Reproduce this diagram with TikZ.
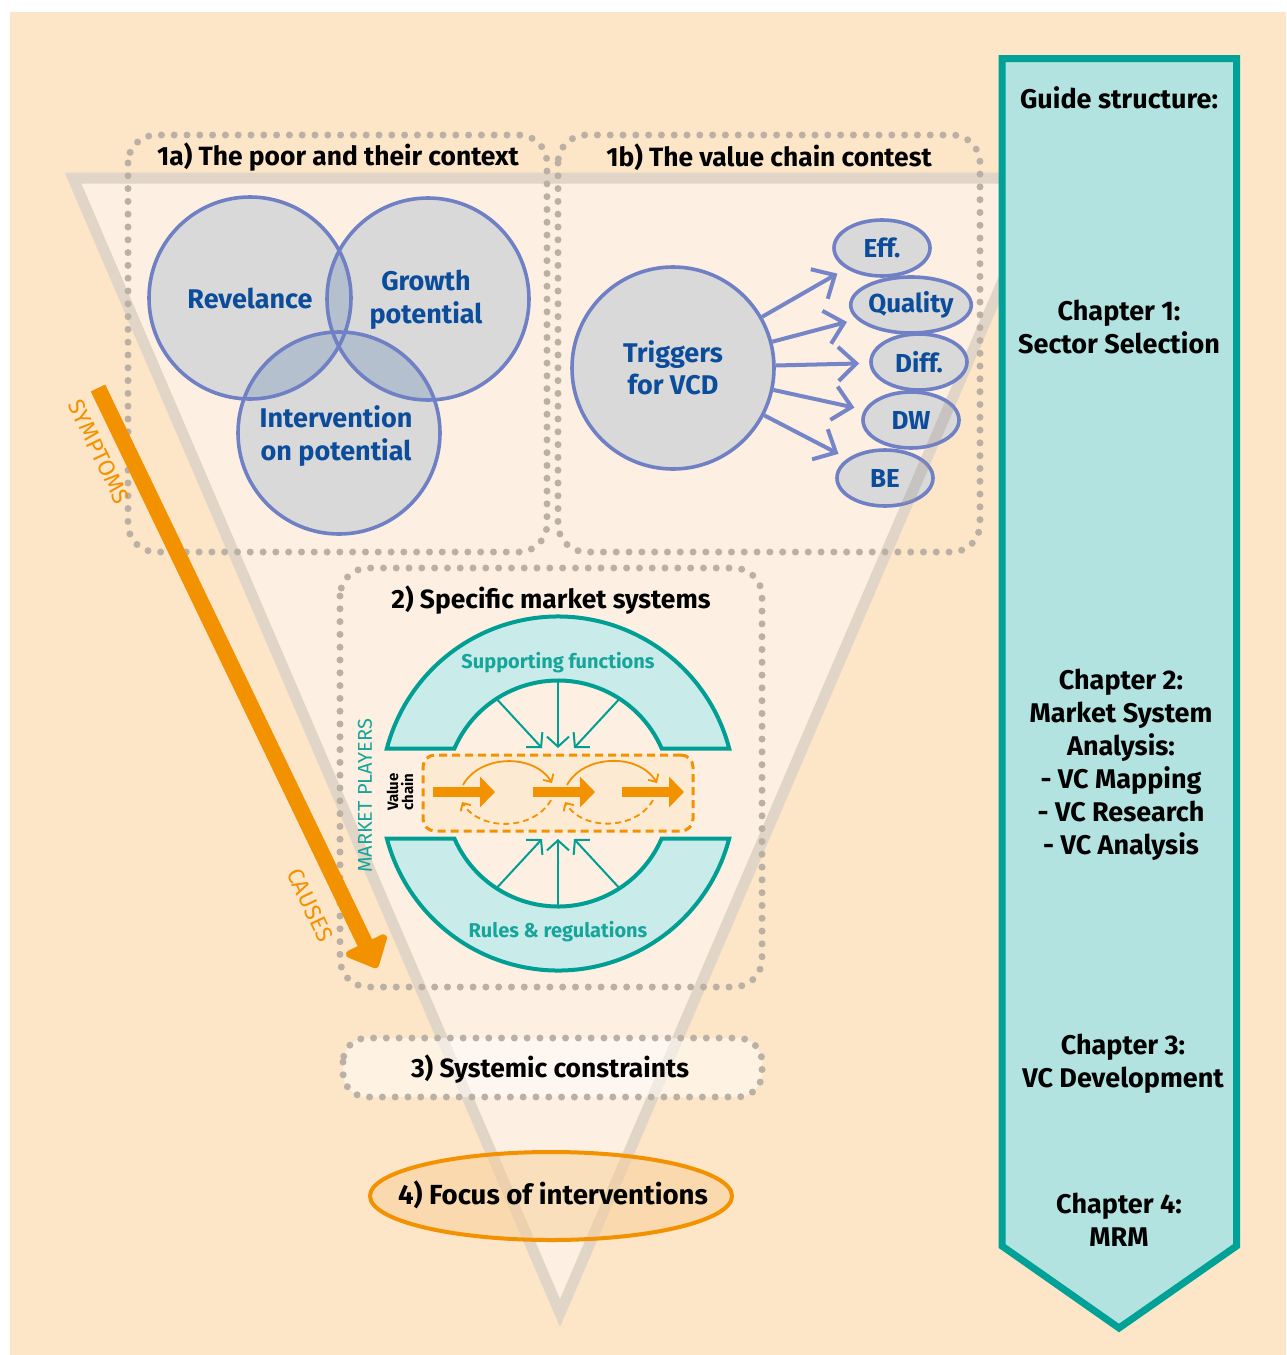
\documentclass[tikz,border=0pt]{standalone}
\usepackage{fontspec}
\setmainfont{Fira Sans}
\usepackage{tikz}
\usepackage{tkz-euclide}
\usetikzlibrary{calc}
\usetikzlibrary{arrows.meta}
\usetikzlibrary{shapes.geometric}
\usetikzlibrary{positioning}

\definecolor{bgorange}{HTML}{FDE5C8}
\definecolor{trifill}{HTML}{FDF0E3}
\definecolor{triline}{HTML}{E1D5C7}
\definecolor{trishade}{HTML}{A89C92}
\definecolor{dotgray}{HTML}{BBB0A4}
\definecolor{venngray}{HTML}{D9D9D9}
\definecolor{vennlens}{HTML}{B5C0CF}
\definecolor{vennline}{HTML}{7080C4}
\definecolor{vennblue}{HTML}{0B4C9B}
\definecolor{trigline}{HTML}{7585C7}
\definecolor{tealline}{HTML}{009E93}
\definecolor{tealfill}{HTML}{C9ECEA}
\definecolor{tealtext}{HTML}{16A59B}
\definecolor{vcorange}{HTML}{F39200}
\definecolor{vcfill}{HTML}{FDEAD3}
\definecolor{focusfill}{HTML}{F9CF96}
\definecolor{guidefill}{HTML}{B2E3E0}
\definecolor{guideline}{HTML}{00A196}

\tikzset{
  dotbox/.style={draw=dotgray, line width=3.5pt, line cap=round,
    dash pattern=on 0pt off 6.4pt, rounded corners=14pt},
  boxtitle/.style={font=\fontsize{13.2}{15}\selectfont\bfseries, text=black},
  vennlbl/.style={font=\fontsize{13.5}{16.5}\selectfont\bfseries, text=vennblue, align=center},
  trigcircle/.style={circle, draw=vennline, line width=1.8pt, fill=venngray,
    minimum size=101pt, inner sep=0pt, font=\fontsize{13.5}{16}\selectfont\bfseries,
    text=vennblue, align=center},
  trigoval/.style={ellipse, draw=vennline, line width=1.8pt, fill=venngray,
    minimum width=48pt, minimum height=28pt, inner sep=0pt,
    font=\fontsize{13}{15}\selectfont\bfseries, text=vennblue},
  trigarrow/.style={draw=trigline, line width=2pt,
    -{Straight Barb[length=9pt,width=17pt]}, shorten >=5pt},
  band/.style={draw=tealline, fill=tealfill, line width=2pt},
  tealtxt/.style={font=\fontsize{10}{12}\selectfont\bfseries, text=tealtext},
  tealarrow/.style={draw=tealline, line width=1pt, -{Straight Barb[length=5pt,width=11pt]}},
  vcbox/.style={draw=vcorange, fill=vcfill, line width=1.5pt, dash pattern=on 4pt off 2.5pt,
    rounded corners=6pt, minimum width=135pt, minimum height=38pt},
  blockarrow/.style={draw=vcorange, line width=5pt, -{Triangle[length=7.5pt,width=15pt]}},
  cyclearrow/.style={draw=vcorange, line width=0.9pt, -{Straight Barb[length=3pt,width=6pt]}},
  bigarrow/.style={draw=vcorange, line width=8pt, -{Triangle[length=15pt,width=26pt,round]}},
  symtxt/.style={font=\fontsize{11.5}{13}\selectfont, text=vcorange},
  focusring/.style={draw=vcorange, line width=2pt, fill=focusfill, fill opacity=0.5},
  guide/.style={draw=guideline, fill=guidefill, line width=3.5pt, line join=miter},
  guidetext/.style={font=\fontsize{13.5}{16.5}\selectfont\bfseries, align=center},
}

\begin{document}
\begin{tikzpicture}[x=0.5pt, y=-0.5pt]
\useasboundingbox (0,0) rectangle (1286,1355);
\fill[white] (0,0) rectangle (1286,1355);
\fill[bgorange] (10,12) rectangle (1286,1355);

% funnel
\tkzDefPoint(73,178){FunA}
\tkzDefPoint(1047,178){FunB}
\tkzDefPoint(560,1313){FunC}
\fill[trifill] (FunA) -- (FunB) -- (FunC) -- cycle;
\draw[triline, line width=5.5pt, line join=miter] (FunA) -- (FunB) -- (FunC) -- cycle;

% dotted boxes
\draw[dotbox] (128,135) rectangle (547,552);
\draw[dotbox] (558,135) rectangle (980,552);
\draw[dotbox] (340,568) rectangle (762,987);
\node[boxtitle] (t1a) at (338,157) {1a) The poor and their context};
\node[boxtitle] (t1b) at (769,157) {1b) The value chain contest};
\node[boxtitle] (t2) at (551,600) {2) Specific market systems};

% 1a venn
\coordinate (rel) at (250,298);
\coordinate (grow) at (428,299);
\coordinate (intv) at (339,433);
\fill[venngray] (rel) circle[radius=50.5pt] (grow) circle[radius=50.5pt] (intv) circle[radius=50.5pt];
\begin{scope}
  \clip (rel) circle[radius=50.5pt];
  \fill[vennlens] (grow) circle[radius=50.5pt] (intv) circle[radius=50.5pt];
\end{scope}
\begin{scope}
  \clip (grow) circle[radius=50.5pt];
  \fill[vennlens] (intv) circle[radius=50.5pt];
\end{scope}
\draw[vennline, line width=1.8pt] (rel) circle[radius=50.5pt] (grow) circle[radius=50.5pt]
  (intv) circle[radius=50.5pt];
\node[vennlbl] (relT) at (250,298) {Revelance};
\node[vennlbl] (growT) at (426,300) {Growth\\potential};
\node[vennlbl] (intvT) at (336,436) {Intervention\\on potential};

% 1b triggers
\node[trigcircle] (trig) at (673,368) {Triggers\\for VCD};
\node[trigoval] (eff) at (882,248) {Eff.};
\node[trigoval] (qual) at (911,305) {Quality};
\node[trigoval] (diff) at (919,362) {Diff.};
\node[trigoval] (dw) at (911,420) {DW};
\node[trigoval] (be) at (885,478) {BE};
\foreach \t in {eff,qual,diff,dw,be}
  \draw[trigarrow] (trig) -- (\t);
\begin{scope}
  \clip (dw.center) ellipse[x radius=24pt, y radius=13.5pt]
        (be.center) ellipse[x radius=24pt, y radius=14pt];
  \draw[trishade, opacity=0.35, line width=5.5pt] (FunB) -- (FunC);
\end{scope}

% 2 market system
\coordinate (ms) at (558,793.5);
\draw[band] (729.2,748.5) arc[start angle=-14.73, end angle=-165.27, radius=177]
  -- (454.4,748.5) arc[start angle=-156.53, end angle=-23.47, radius=113] -- cycle;
\draw[band] (729.2,838.5) arc[start angle=14.73, end angle=165.27, radius=177]
  -- (454.4,838.5) arc[start angle=156.53, end angle=23.47, radius=113] -- cycle;
\node[tealtxt] (supp) at (558,663) {Supporting functions};
\node[tealtxt] (rules) at (558,932) {Rules \& regulations};
\foreach \ang/\tx in {-123/542,-90/558,-57/574}
  \draw[tealarrow] ($(ms)+(\ang:113)$) -- (\tx,748);
\foreach \ang/\tx in {123/542,90/558,57/574}
  \draw[tealarrow] ($(ms)+(\ang:113)$) -- (\tx,839);
\node[vcbox] (vc) at (558,793) {};
\node[font=\fontsize{7.5}{7.5}\selectfont\bfseries, align=center, rotate=90] (vcT) at (400,792) {Value\\chain};
\node[font=\fontsize{10}{12}\selectfont, text=tealtext, rotate=90] (mp) at (365,796) {MARKET PLAYERS};
\foreach \xa in {433,533,622}
  \draw[blockarrow] (\xa,792) -- ++(62,0);
\draw[cyclearrow] (463,785) to[bend left=60] (552,783);
\draw[cyclearrow] (567,785) to[bend left=60] (657,783);
\draw[cyclearrow, dash pattern=on 3pt off 2pt] (551,800) to[bend left=60] (462,802);
\draw[cyclearrow, dash pattern=on 3pt off 2pt] (653,800) to[bend left=60] (565,802);

% symptoms -> causes
\tkzDefPoint(98,388){SymA}
\tkzDefPoint(377,968){SymB}
\draw[bigarrow] (SymA) -- (SymB);
\node[symtxt, rotate=-64.5] (symp) at (99,452) {SYMPTOMS};
\node[symtxt, rotate=-64.5] (caus) at (310,905) {CAUSES};

% 3 and 4
\draw[dotbox, fill=white, fill opacity=0.5, rounded corners=12pt] (343,1038) rectangle (762,1097);
\node[boxtitle] (t3) at (550,1069) {3) Systemic constraints};
\draw[focusring] (551,1196) ellipse[x radius=90.5pt, y radius=22pt];
\node[boxtitle, font=\fontsize{13.8}{16}\selectfont\bfseries] (foc) at (553,1195) {4) Focus of interventions};

% guide structure
\tkzDefPoint(1002,58.5){GdA}
\tkzDefPoint(1236.5,58.5){GdB}
\tkzDefPoint(1236.5,1246){GdC}
\tkzDefPoint(1119,1328){GdD}
\tkzDefPoint(1002,1246){GdE}
\draw[guide] (GdA) -- (GdB) -- (GdC) -- (GdD) -- (GdE) -- cycle;
\node[guidetext] (gs) at (1119,98) {Guide structure:};
\node[guidetext] (ch1) at (1119,327) {Chapter 1:\\Sector Selection};
\node[guidetext] (ch2) at (1121,765) {Chapter 2:\\Market System\\Analysis:\\- VC Mapping\\- VC Research\\- VC Analysis};
\node[guidetext] (ch3) at (1123,1064) {Chapter 3:\\VC Development};
\node[guidetext] (ch4) at (1119,1220) {Chapter 4:\\MRM};
\end{tikzpicture}
\end{document}
